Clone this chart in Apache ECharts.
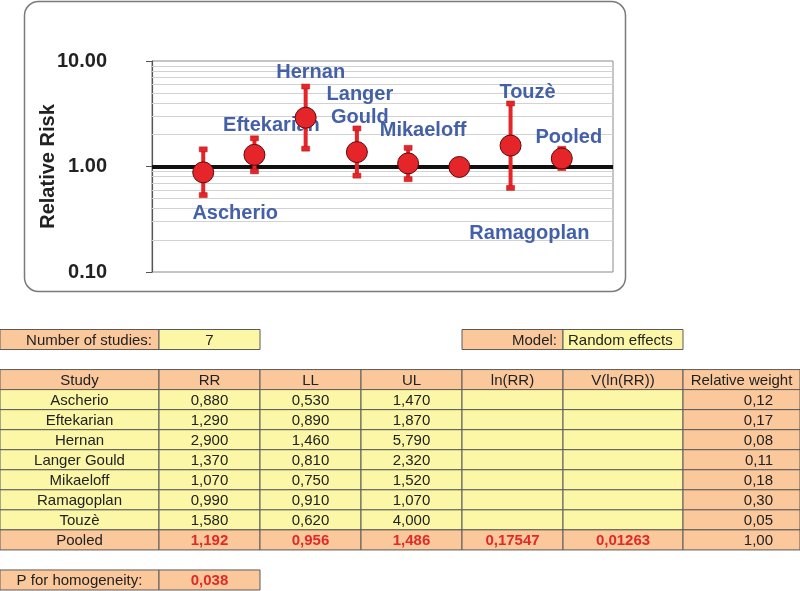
<!DOCTYPE html>
<html><head><meta charset="utf-8">
<script src="https://cdn.jsdelivr.net/npm/echarts@6/dist/echarts.min.js"></script>
<style>html,body{margin:0;padding:0;background:#fff}#c{width:800px;height:591px}</style>
</head><body><div id="c"></div>
<script>
// ---- data ----
const studies = ['Ascherio','Eftekarian','Hernan','Langer Gould','Mikaeloff','Ramagoplan','Touzè'];
const rr = [0.88, 1.29, 2.90, 1.37, 1.07, 0.99, 1.58];
const ll = [0.53, 0.89, 1.46, 0.81, 0.75, 0.91, 0.62];
const ul = [1.47, 1.87, 5.79, 2.32, 1.52, 1.07, 4.00];
const weights = ['0,12','0,17','0,08','0,11','0,18','0,30','0,05'];
const pooledName = 'Pooled';
const pooledRR = 1.192, pooledLL = 0.956, pooledUL = 1.486;
const pooledLnRR = '0,17547';
const pooledVLnRR = '0,01263';
const pooledWeight = '1,00';
const nStudies = '7';
const modelName = 'Random effects';
const pHomogeneity = '0,038';
const chartLabels = ['Ascherio','Eftekarian','Hernan','Langer\nGould','Mikaeloff','Ramagoplan','Touzè','Pooled'];
const yTicks = [0.1, 1, 10];
const minorGrid = [0.2,0.3,0.4,0.5,0.6,0.7,0.8,0.9,2,3,4,5,6,7,8,9];
const headers = ['Study','RR','LL','UL','ln(RR)','V(ln(RR))','Relative weight'];

// ---- layout / style ----
const labelOffsets = [[32,41],[17,-29],[5,-45],[3,-46],[15,-33],[70,67],[17,-53],[7,-21]];
const colEdges = [0,159,260,361,462,563,683,800];
const ORANGE = '#fbc89c', YELLOW = '#fbf7a6', RED = '#e02a2a', BLUE = '#4461a8', MARK = '#e5252a';
const FONT = '"Liberation Sans", Arial, sans-serif';

const allRR = rr.concat([pooledRR]);
const allLL = ll.concat([pooledLL]);
const allUL = ul.concat([pooledUL]);
const fmt3 = v => v.toFixed(3).replace('.', ',');

// table cells
const cells = [];
function cell(c0, c1, row, text, fill, opts) {
  cells.push(Object.assign({c0, c1, row, text, fill, color:'#222', bold:false, align:'center', pad:0}, opts || {}));
}
cell(0,1,0,'Number of studies:',ORANGE,{align:'right',pad:7});
cell(1,2,0,nStudies,YELLOW);
cell(4,5,0,'Model:',ORANGE,{align:'right',pad:6});
cell(5,6,0,modelName,YELLOW,{align:'left',pad:5});
headers.forEach((h,i)=>cell(i,i+1,2,h,ORANGE));
studies.forEach((s,i)=>{
  const r = 3+i;
  cell(0,1,r,s,YELLOW);
  cell(1,2,r,fmt3(rr[i]),YELLOW);
  cell(2,3,r,fmt3(ll[i]),YELLOW);
  cell(3,4,r,fmt3(ul[i]),YELLOW);
  cell(4,5,r,'',YELLOW);
  cell(5,6,r,'',YELLOW);
  cell(6,7,r,weights[i],ORANGE,{align:'right',pad:27});
});
const pr = 3 + studies.length;
cell(0,1,pr,pooledName,ORANGE);
cell(1,2,pr,fmt3(pooledRR),ORANGE,{color:RED,bold:true});
cell(2,3,pr,fmt3(pooledLL),ORANGE,{color:RED,bold:true});
cell(3,4,pr,fmt3(pooledUL),ORANGE,{color:RED,bold:true});
cell(4,5,pr,pooledLnRR,ORANGE,{color:RED,bold:true});
cell(5,6,pr,pooledVLnRR,ORANGE,{color:RED,bold:true});
cell(6,7,pr,pooledWeight,ORANGE,{align:'right',pad:27});
cell(0,1,pr+2,'P for homogeneity:',ORANGE);
cell(1,2,pr+2,pHomogeneity,ORANGE,{color:RED,bold:true});

const chart = echarts.init(document.getElementById('c'), null, {renderer:'canvas'});
chart.setOption({
  animation:false,
  backgroundColor:'#fff',
  graphic:{elements:[{type:'rect', z:-10, silent:true,
    shape:{x:24.5,y:1.5,width:601,height:290,r:14},
    style:{fill:'#fff',stroke:'#7a7a7a',lineWidth:1.5}}]},
  grid:[
    {left:152, top:61, width:461, height:211, show:true, borderColor:'#8a8a8a', borderWidth:1, backgroundColor:'transparent'},
    {left:0, top:329.5, width:800, height:260.5, show:false}
  ],
  xAxis:[
    {gridIndex:0, type:'value', min:0, max:9, show:false},
    {gridIndex:1, type:'value', min:0, max:800, show:false}
  ],
  yAxis:[
    {gridIndex:0, type:'log', logBase:10, min:0.1, max:10, interval:1,
     axisLine:{show:true, lineStyle:{color:'#555', width:1.2}},
     axisTick:{show:true, length:6, customValues:yTicks, lineStyle:{color:'#555'}},
     minorTick:{show:false},
     minorSplitLine:{show:false},
     axisLabel:{customValues:yTicks, formatter:v=>Number(v).toFixed(2), fontSize:20, fontWeight:'bold', color:'#222', fontFamily:FONT, margin:45},
     splitLine:{show:false},
     name:'Relative Risk', nameLocation:'middle', nameRotate:90, nameGap:94, nameMoveOverlap:false,
     nameTextStyle:{fontSize:20, fontWeight:'bold', color:'#222', fontFamily:FONT}},
    {gridIndex:1, type:'value', min:0, max:13, inverse:true, show:false}
  ],
  series:[
    {type:'scatter', xAxisIndex:0, yAxisIndex:0, z:1, symbolSize:0, silent:true,
     itemStyle:{opacity:0},
     data: allRR.map((v,i)=>[i+1,v]),
     markLine:{silent:true, z:1, symbol:'none', label:{show:false}, animation:false,
       data: minorGrid.map(v=>({yAxis:v, lineStyle:{color:'#d2d2d2', width:1, type:'solid', opacity:1}}))
         .concat([{yAxis:1, lineStyle:{color:'#111', width:4, type:'solid', opacity:1}}])}},
    {type:'scatter', xAxisIndex:0, yAxisIndex:0, z:2, symbolSize:1, silent:true,
     itemStyle:{opacity:0},
     data: allRR.map((v,i)=>({value:[i+1,v], label:{offset:labelOffsets[i]}})),
     label:{show:true, position:'inside', formatter:p=>chartLabels[p.dataIndex], color:BLUE, opacity:1,
       textBorderWidth:0, textBorderColor:'transparent', textShadowBlur:0,
       fontSize:20, fontWeight:'bold', fontFamily:FONT, lineHeight:23, align:'center', verticalAlign:'middle'}},
    {type:'custom', xAxisIndex:0, yAxisIndex:0, z:3, silent:true,
     data: allRR.map((v,i)=>[i+1, allLL[i], allUL[i]]),
     renderItem:(params, api)=>{
       const x = api.value(0);
       const top = api.coord([x, api.value(2)]);
       const bot = api.coord([x, api.value(1)]);
       return {type:'group', children:[
         {type:'line', shape:{x1:top[0],y1:top[1],x2:bot[0],y2:bot[1]}, style:{stroke:MARK, lineWidth:4}},
         {type:'rect', shape:{x:top[0]-4,y:top[1]-2,width:8,height:5}, style:{fill:MARK, stroke:'#b01818', lineWidth:0.5}},
         {type:'rect', shape:{x:bot[0]-4,y:bot[1]-3,width:8,height:5}, style:{fill:MARK, stroke:'#b01818', lineWidth:0.5}}
       ]};
     }},
    {type:'scatter', xAxisIndex:0, yAxisIndex:0, z:4, silent:true, symbol:'circle', symbolSize:21,
     data: allRR.map((v,i)=>[i+1,v]),
     itemStyle:{color:MARK, borderColor:'#5a0a0a', borderWidth:1, opacity:1}},
    {type:'custom', xAxisIndex:1, yAxisIndex:1, z:2, silent:true,
     data: cells.map(c=>[colEdges[c.c0], colEdges[c.c1], c.row]),
     renderItem:(params, api)=>{
       const c = cells[params.dataIndex];
       const p0 = api.coord([api.value(0), api.value(2)]);
       const p1 = api.coord([api.value(1), api.value(2)+1]);
       const x = p0[0], y = Math.min(p0[1],p1[1]);
       const w = p1[0]-p0[0], h = Math.abs(p1[1]-p0[1]);
       let tx = x + w/2;
       if (c.align==='right') tx = x + w - c.pad;
       else if (c.align==='left') tx = x + c.pad;
       return {type:'group', children:[
         {type:'rect', shape:{x:x,y:y,width:w,height:h}, style:{fill:c.fill, stroke:'#5a5a5a', lineWidth:1}},
         {type:'text', style:{text:c.text, x:tx, y:y+h/2+1, align:c.align, textAlign:c.align, verticalAlign:'middle', textVerticalAlign:'middle',
           font:(c.bold?'bold ':'')+'15px '+FONT, fill:c.color}}
       ]};
     }}
  ]
});
</script>
</body></html>
